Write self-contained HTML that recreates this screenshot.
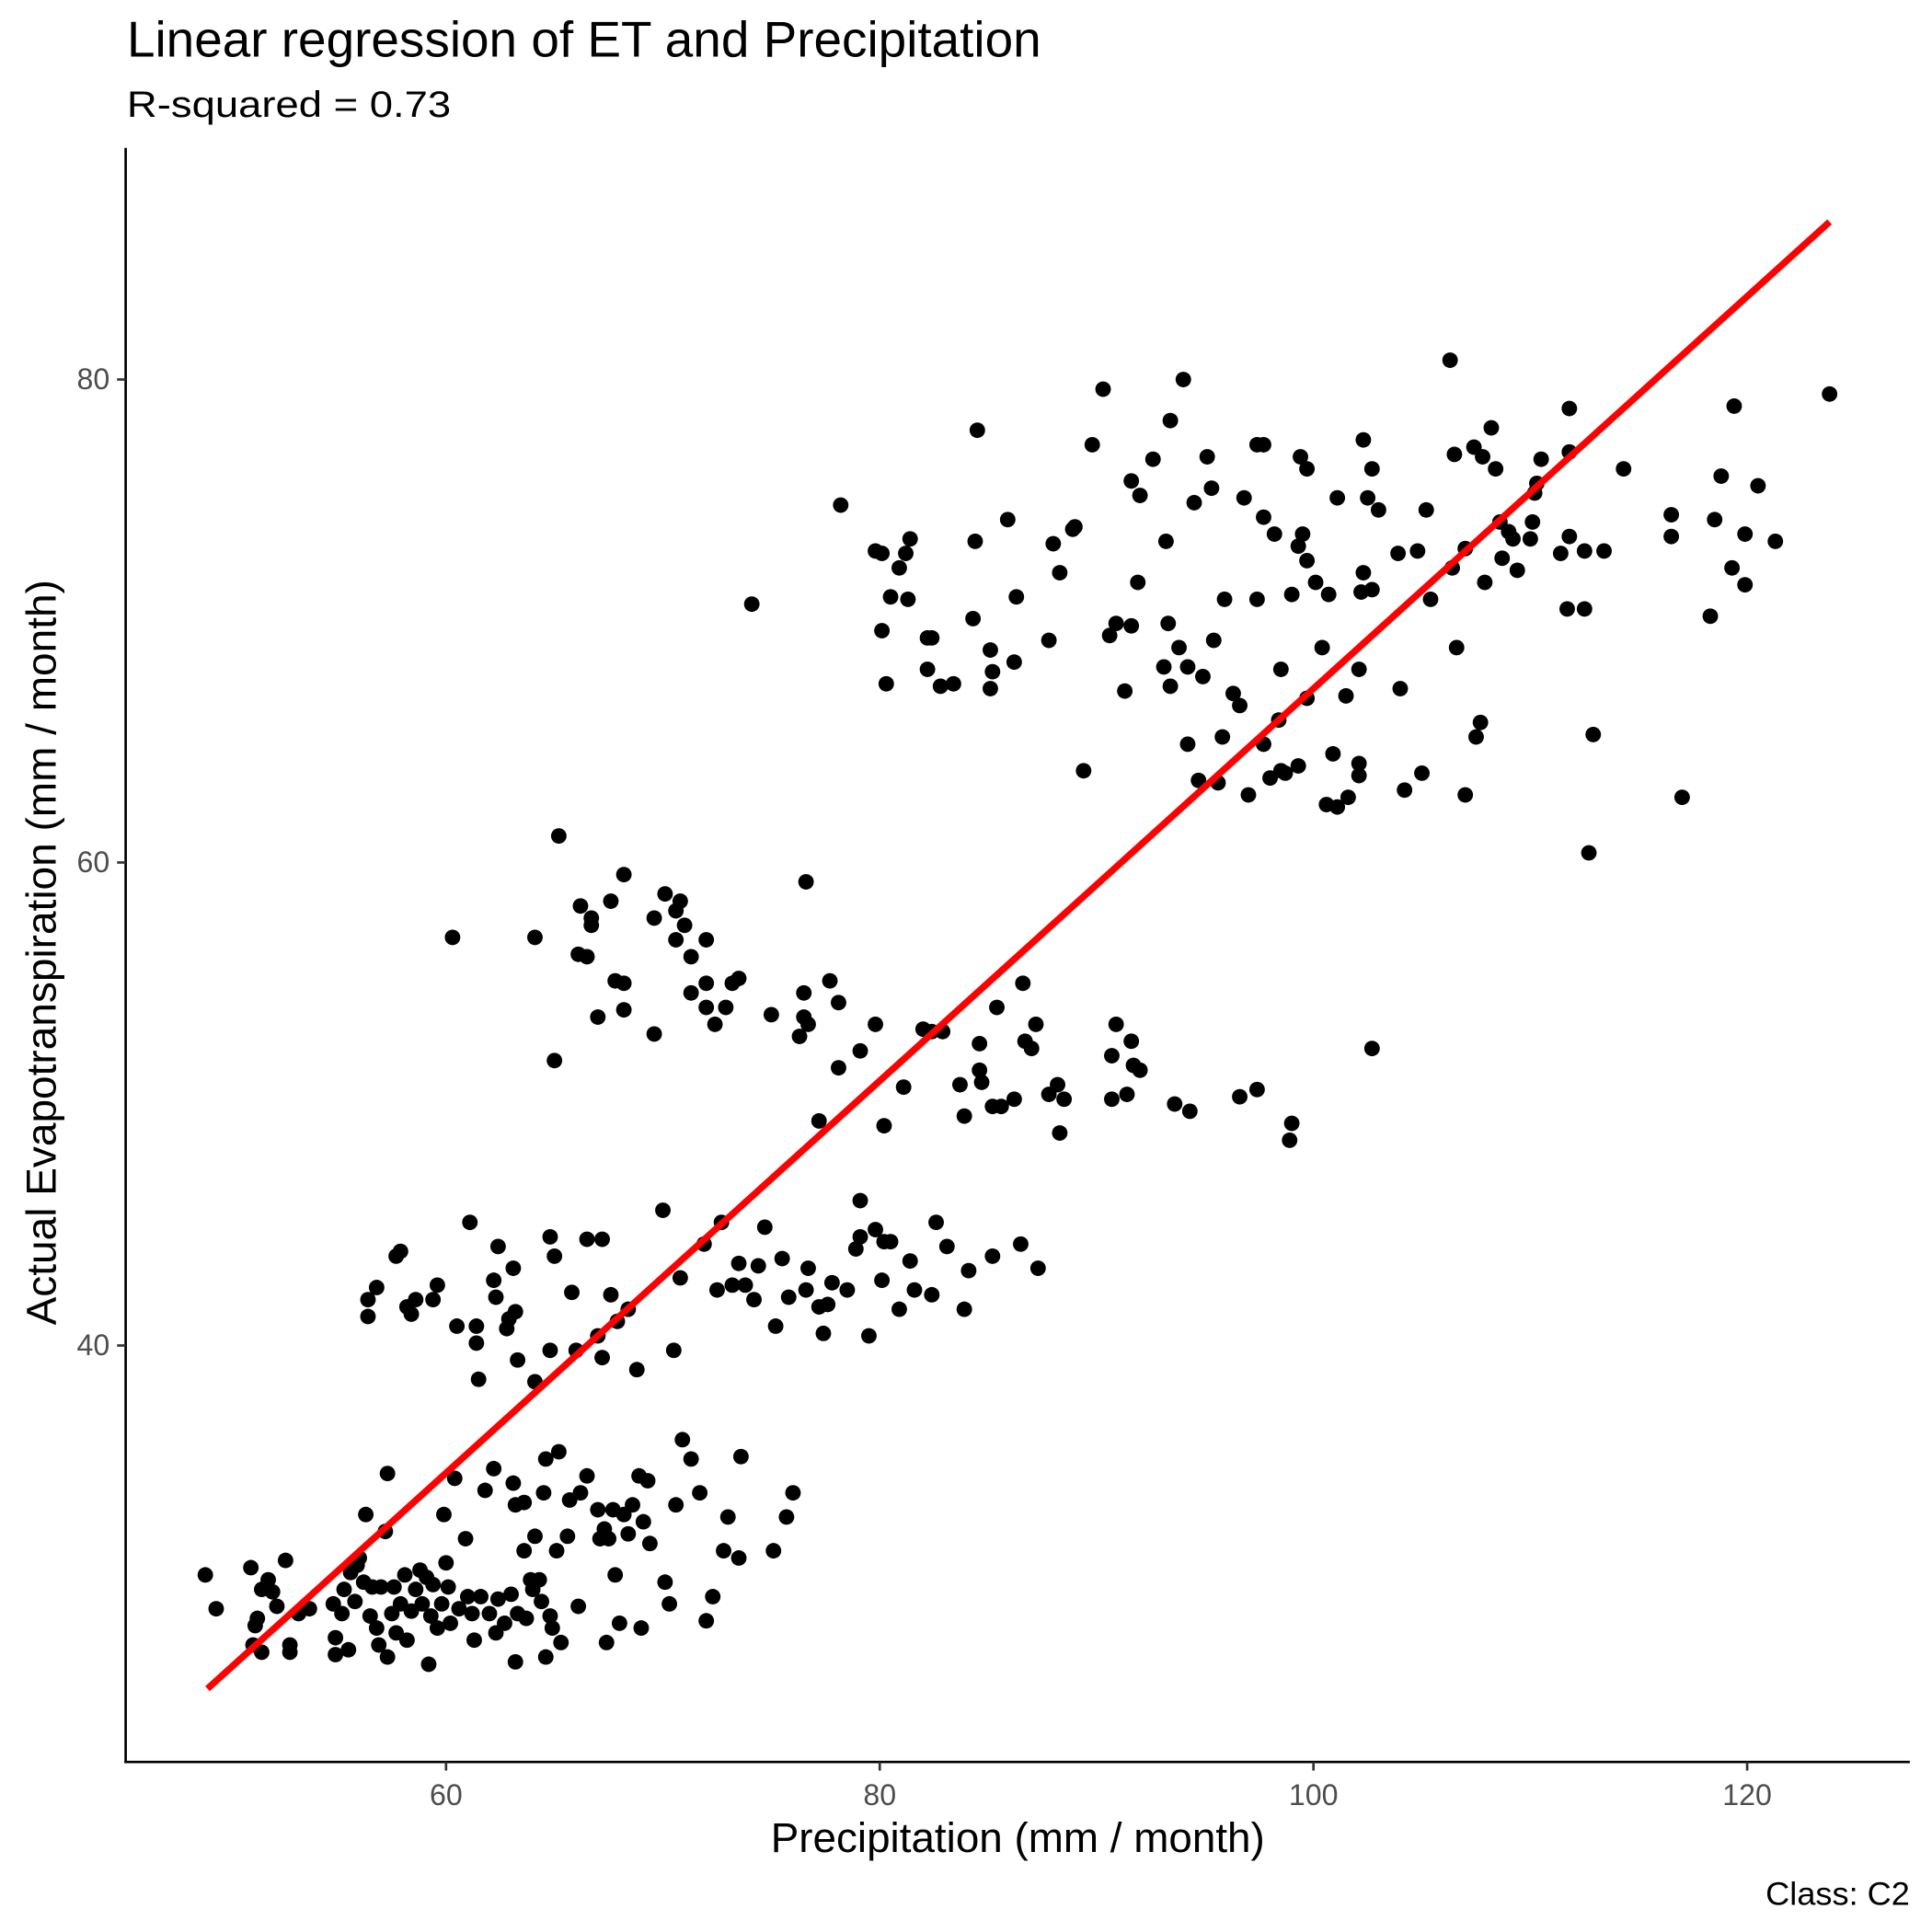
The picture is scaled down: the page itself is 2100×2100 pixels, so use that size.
<!DOCTYPE html>
<html><head><meta charset="utf-8"><style>
html,body{margin:0;padding:0;background:#fff;}
svg{display:block;font-family:"Liberation Sans",Arial,sans-serif;}
</style></head><body>
<svg id="chart" width="2100" height="2100" viewBox="0 0 1568 1568" xmlns="http://www.w3.org/2000/svg">
<rect width="1568" height="1568" fill="#fff"/>
<text x="103" y="46" font-size="41" textLength="742" lengthAdjust="spacingAndGlyphs" fill="#000">Linear regression of ET and Precipitation</text>
<text x="103" y="95" font-size="30" textLength="263" lengthAdjust="spacingAndGlyphs" fill="#000">R-squared = 0.73</text>
<g id="points"></g>
<g id="axes"></g>
<text x="826" y="1503" font-size="34" text-anchor="middle" textLength="401" lengthAdjust="spacingAndGlyphs" fill="#000">Precipitation (mm / month)</text>
<text transform="translate(45,773) rotate(-90)" font-size="34" text-anchor="middle" textLength="605" lengthAdjust="spacingAndGlyphs" fill="#000">Actual Evapotranspiration (mm / month)</text>
<text x="1550" y="1546" font-size="26" text-anchor="end" textLength="117" lengthAdjust="spacingAndGlyphs" fill="#000">Class: C2</text>
</svg>
<script>
const xTicks=[60,80,100,120];
const yTicks=[40,60,80];
const fitSlope=0.812;
const fitIntercept=-14.0;
const fitRange=[49.0,123.8];
const precip=[78.2,74.1,79.8,80.1,80.9,81.2,81.4,80.5,81.3,80.1,80.3,82.2,82.4,82.2,82.8,83.4,84.5,84.4,84.3,85.1,85.2,85.1,85.9,86.3,86.2,88.0,88.3,87.8,89.0,88.9,89.4,89.8,90.3,91.6,92.0,92.6,91.9,90.6,90.9,91.6,91.3,93.4,93.2,93.3,93.8,93.1,93.4,94.2,94.0,94.5,95.1,95.3,94.9,95.4,94.2,95.8,94.7,95.6,95.9,96.8,96.3,96.6,97.0,97.4,97.7,97.7,98.2,97.4,97.7,98.0,98.4,98.5,98.5,98.7,99.3,99.0,99.3,99.5,99.4,99.7,99.7,100.1,99.7,100.7,100.4,100.6,100.9,101.1,101.6,101.5,101.1,102.3,102.3,102.5,102.7,103.0,102.2,102.7,102.1,102.1,102.1,103.9,104.8,104.0,104.2,105.0,105.2,105.4,106.3,106.5,106.4,106.6,107.0,107.0,107.4,107.5,107.7,107.8,107.9,108.2,108.4,108.6,108.7,109.0,109.2,109.4,110.1,110.0,110.2,110.3,110.5,111.4,111.8,111.8,111.8,111.7,112.5,112.5,112.7,112.9,113.4,114.3,116.5,116.5,117.0,118.3,118.5,118.8,119.4,119.3,119.9,119.9,120.5,121.3,123.8,
65.2,60.3,64.1,65.0,66.2,66.7,66.7,66.1,66.5,67.0,67.6,68.2,67.8,68.2,68.2,69.6,69.6,70.1,70.6,70.8,71.0,70.6,71.3,71.3,72.0,72.0,72.0,72.4,72.9,73.2,73.5,75.0,76.3,76.5,76.5,76.6,76.7,77.2,77.7,78.1,78.1,79.1,79.8,80.2,81.1,82.0,82.4,82.9,83.7,83.9,84.6,84.6,84.7,85.4,85.2,85.6,86.2,86.6,86.7,87.0,87.2,87.8,88.2,88.5,88.3,90.9,90.7,90.7,91.4,91.6,91.7,92.0,93.6,94.3,96.6,97.4,99.0,98.9,102.7,
56.4,56.8,56.4,57.7,57.9,58.2,58.4,58.6,59.4,59.6,60.5,61.1,61.4,61.4,61.5,62.3,62.4,62.2,62.8,62.9,63.2,63.1,63.3,64.1,64.8,64.8,65.0,65.8,66.0,66.5,67.2,67.0,67.2,67.6,67.9,68.4,68.8,70.0,70.5,70.8,71.9,72.7,72.5,73.2,73.5,73.8,74.2,74.4,74.7,75.2,75.5,75.8,76.7,76.6,77.2,77.6,77.4,77.8,78.5,78.9,79.1,79.1,79.5,79.8,80.1,80.2,80.5,80.9,81.4,81.6,82.4,82.6,83.1,83.9,84.1,85.2,86.5,87.3,
48.9,49.4,51.0,51.2,51.3,51.5,51.1,51.5,51.8,52.0,52.2,52.6,52.8,52.8,53.2,53.7,54.8,54.9,54.9,55.2,55.5,55.3,55.6,55.9,55.8,56.0,56.2,56.3,56.5,56.6,56.8,56.9,57.0,57.2,57.3,57.3,57.5,57.6,57.7,57.9,58.1,58.2,58.4,58.6,58.8,58.9,59.1,59.2,59.3,59.4,59.6,59.8,59.9,60.0,60.1,60.2,60.4,60.6,60.9,61.0,61.2,61.3,61.6,61.8,62.0,62.2,62.3,62.4,62.7,63.0,63.1,63.2,63.2,63.3,63.6,63.6,63.7,63.9,64.0,64.1,64.3,64.4,64.5,64.6,64.6,64.8,64.9,65.1,65.2,65.3,65.6,65.7,66.1,66.2,66.5,67.0,67.1,67.3,67.4,67.5,67.7,67.8,68.0,68.2,68.4,68.6,68.9,69.0,69.1,69.3,69.4,70.1,70.3,70.6,70.9,71.3,71.7,72.0,72.3,72.8,73.0,73.5,73.6,75.1,75.7,76.0];
const et=[74.8,70.7,72.9,72.8,72.2,72.8,73.4,71.0,70.9,69.6,67.4,69.3,69.3,68.0,67.3,67.4,77.9,73.3,70.1,68.8,67.9,67.2,74.2,71.0,68.3,73.2,72.0,69.2,73.9,73.8,63.8,77.3,79.6,75.8,75.2,76.7,71.6,69.4,69.9,69.8,67.1,78.3,73.3,69.9,68.9,68.1,67.3,68.1,80.0,74.9,76.8,75.5,67.7,69.2,64.9,65.2,63.4,63.3,70.9,75.1,67.0,66.5,62.8,77.3,77.3,74.3,73.6,70.9,64.9,63.5,65.9,68.0,63.8,63.7,64.0,71.1,73.1,73.6,76.8,76.3,72.5,71.6,66.8,71.1,68.9,62.4,64.5,62.3,62.7,66.9,75.1,77.5,72.0,75.1,76.3,74.6,71.2,71.3,68.0,64.1,63.6,72.8,72.9,67.2,63.0,63.7,74.6,70.9,80.8,76.9,72.2,68.9,73.0,62.8,77.2,65.2,65.8,76.8,71.6,78.0,76.3,74.1,72.6,73.7,73.4,72.1,74.1,73.4,75.3,75.7,76.7,72.8,78.8,73.5,77.0,70.5,70.5,72.9,60.4,65.3,72.9,76.3,74.4,73.5,62.7,70.2,74.2,76.0,78.9,72.2,73.6,71.5,75.6,73.3,79.4,
61.1,56.9,56.9,51.8,58.2,57.7,57.4,56.2,56.1,53.6,58.4,59.5,55.1,55.0,53.9,52.9,57.7,58.7,58.0,58.4,57.4,56.8,56.1,54.6,54.0,56.8,55.0,53.3,54.0,55.0,55.2,53.7,52.8,53.6,54.6,59.2,53.3,49.3,55.1,54.2,51.5,52.2,53.3,49.1,50.7,53.1,53.0,53.0,50.8,49.5,52.5,51.4,50.9,54.0,49.9,49.9,50.2,55.0,52.6,52.3,53.3,50.4,50.8,50.2,48.8,53.3,52.0,50.2,50.4,52.6,51.6,51.4,50.0,49.7,50.3,50.6,49.2,48.5,52.3,
41.9,42.4,41.2,43.7,43.9,41.6,41.3,41.9,41.9,42.5,40.8,45.1,40.8,40.1,38.6,42.0,44.1,42.7,40.7,41.1,41.4,43.2,39.4,38.5,44.5,39.8,43.7,42.2,39.8,44.4,44.4,40.4,39.5,42.1,41.0,41.5,39.0,45.6,39.8,42.8,44.2,45.1,42.3,42.5,43.4,42.5,41.9,43.3,44.9,40.8,43.6,42.0,43.2,42.3,41.6,41.7,40.5,42.6,42.3,44.0,46.0,44.5,40.4,44.8,42.7,44.3,44.3,41.5,43.5,42.3,42.1,45.1,44.1,41.5,43.1,43.7,44.2,43.2,
30.5,29.1,30.8,28.4,28.7,29.9,27.6,27.3,30.3,29.8,29.2,31.1,27.6,27.3,28.9,29.1,29.3,27.9,27.2,28.9,27.4,29.9,30.6,30.9,29.4,31.2,30.2,33.0,28.8,30.0,28.3,27.6,30.0,32.3,34.7,27.1,28.9,30.0,28.1,29.3,30.5,27.8,29.0,29.9,30.7,29.3,30.4,26.8,28.8,30.1,28.3,29.3,33.0,31.0,30.0,28.5,34.5,29.1,32.0,29.6,28.9,27.8,29.6,34.0,28.9,34.9,28.1,29.5,28.5,29.7,34.3,33.4,26.9,28.9,33.5,31.5,28.7,30.3,29.9,32.1,30.3,29.4,33.9,35.3,27.1,28.8,28.3,31.5,35.6,27.7,32.1,33.6,29.2,33.9,34.6,33.2,32.0,32.4,27.7,32.0,33.2,30.5,28.5,33.0,32.2,33.4,34.6,28.3,32.7,34.4,31.8,30.2,29.3,33.4,36.1,35.3,33.9,28.6,29.6,31.5,32.9,31.2,35.4,31.5,32.9,33.9];

const NS='http://www.w3.org/2000/svg';
function sx(v){return 362+(v-60)*17.6;}
function sy(v){return 308+(80-v)*19.6;}
const pts=document.getElementById('points');
const n=Math.min(precip.length,et.length);
for(let i=0;i<n;i++){
  const c=document.createElementNS(NS,'circle');
  c.setAttribute('cx',sx(precip[i]));c.setAttribute('cy',sy(et[i]));c.setAttribute('r',6.3);c.setAttribute('fill','#000');
  
  
  pts.appendChild(c);
}
const fit=document.createElementNS(NS,'line');
fit.setAttribute('x1',sx(fitRange[0]));fit.setAttribute('y1',sy(fitSlope*fitRange[0]+fitIntercept));
fit.setAttribute('x2',sx(fitRange[1]));fit.setAttribute('y2',sy(fitSlope*fitRange[1]+fitIntercept));
fit.setAttribute('stroke','#ff0000');fit.setAttribute('stroke-width','5.5');


pts.appendChild(fit);

const ax=document.getElementById('axes');
function mk(tag,attrs){const e=document.createElementNS(NS,tag);for(const k in attrs)e.setAttribute(k,attrs[k]);ax.appendChild(e);return e;}
const yl=mk('line',{x1:102,y1:120,x2:102,y2:1431,stroke:'#000','stroke-width':2});


const xl=mk('line',{x1:101,y1:1430,x2:1550,y2:1430,stroke:'#000','stroke-width':2});


xTicks.forEach(t=>{
  const tk=mk('line',{x1:sx(t),y1:1430,x2:sx(t),y2:1437,stroke:'#333','stroke-width':2});
  
  
  const tl=mk('text',{x:sx(t),y:1465,'font-size':24,'text-anchor':'middle',fill:'#4d4d4d'});
  tl.textContent=t;
  
  
});
yTicks.forEach(t=>{
  const tk=mk('line',{x1:95,y1:sy(t),x2:102,y2:sy(t),stroke:'#333','stroke-width':2});
  
  
  const tl=mk('text',{x:89,y:sy(t)+8,'font-size':24,'text-anchor':'end',fill:'#4d4d4d'});
  tl.textContent=t;
  
  
});
</script>
</body></html>
